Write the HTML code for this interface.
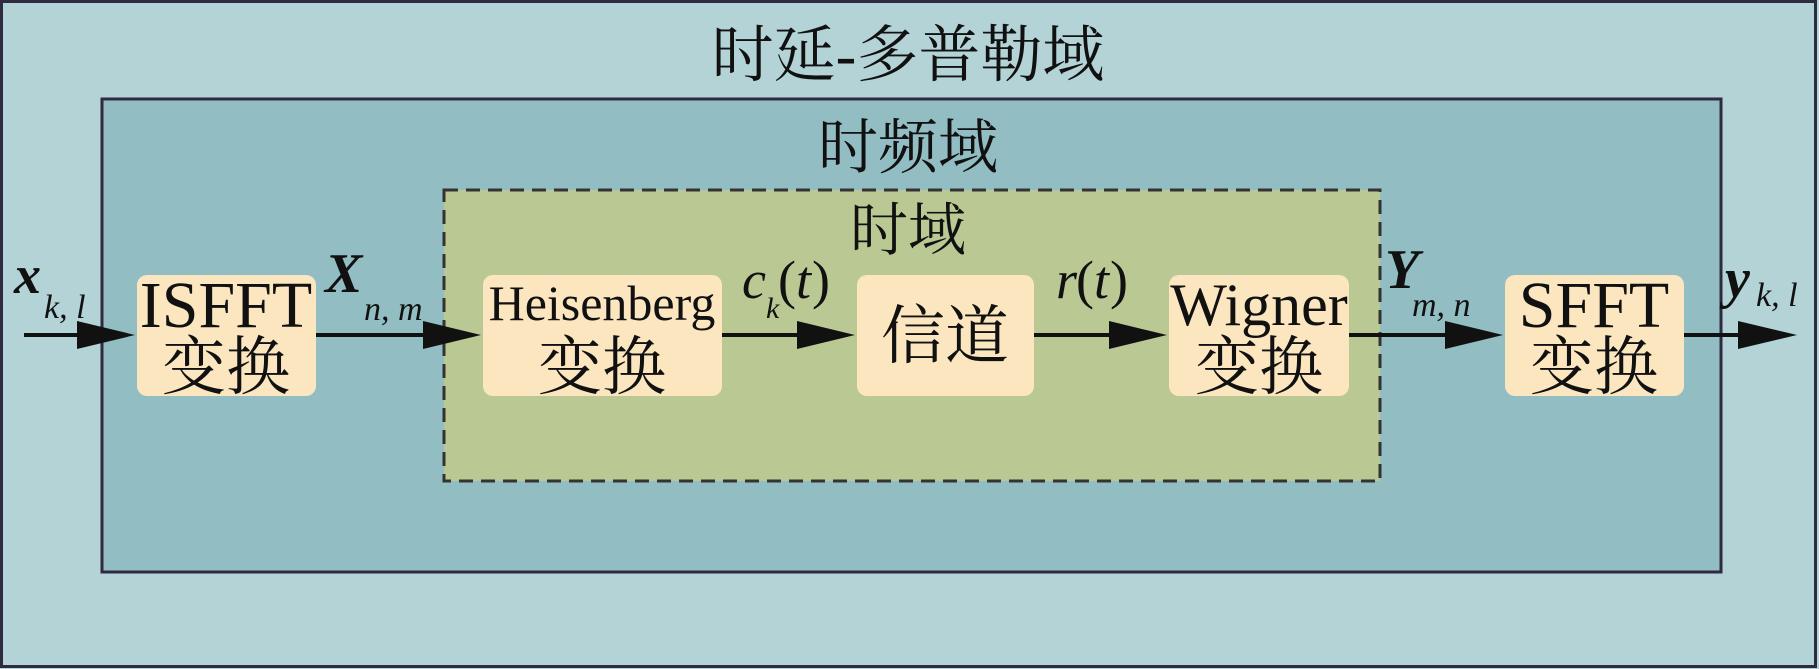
<!DOCTYPE html>
<html><head><meta charset="utf-8"><style>
html,body{margin:0;padding:0;background:#b3d3d6;}
svg{display:block}
.t{font-family:"Liberation Serif","Noto Serif CJK SC",serif;fill:#111;}
</style></head><body>
<svg width="1819" height="669" viewBox="0 0 1819 669" xmlns="http://www.w3.org/2000/svg">
<rect x="1.5" y="1.5" width="1814" height="665" fill="#b3d3d6" stroke="#2e2a40" stroke-width="3"/>
<rect x="102" y="99" width="1619" height="473" fill="#92bdc3" stroke="#2e2a40" stroke-width="3"/>
<rect x="444" y="190" width="936" height="291" fill="#bac994" stroke="#333" stroke-width="3" stroke-dasharray="14,8"/>
<text class="t" x="908" y="76" font-size="62" text-anchor="middle">时延-多普勒域</text>
<text class="t" x="908" y="168" font-size="60" text-anchor="middle">时频域</text>
<text class="t" x="908" y="250" font-size="58" text-anchor="middle">时域</text>
<g fill="#fbe6c0">
<rect x="137" y="275" width="179" height="121" rx="10"/>
<rect x="483" y="275" width="239" height="121" rx="10"/>
<rect x="857" y="275" width="177" height="121" rx="10"/>
<rect x="1169" y="275" width="180" height="121" rx="10"/>
<rect x="1505" y="275" width="179" height="121" rx="10"/>
</g>
<g class="t" text-anchor="middle">
<text x="226" y="327" font-size="66">ISFFT</text><text x="226" y="389" font-size="64">变换</text>
<text x="602" y="320" font-size="50">Heisenberg</text><text x="602" y="389" font-size="64">变换</text>
<text x="945" y="358" font-size="64">信道</text>
<text x="1259" y="325" font-size="60">Wigner</text><text x="1259" y="389" font-size="64">变换</text>
<text x="1594" y="327" font-size="66">SFFT</text><text x="1594" y="389" font-size="64">变换</text>
</g>
<g stroke="#111" stroke-width="4">
<line x1="24" y1="335" x2="90" y2="335"/>
<line x1="316" y1="335" x2="430" y2="335"/>
<line x1="722" y1="335" x2="810" y2="335"/>
<line x1="1034" y1="335" x2="1120" y2="335"/>
<line x1="1349" y1="335" x2="1455" y2="335"/>
<line x1="1684" y1="335" x2="1750" y2="335"/>
</g>
<g fill="#111">
<polygon points="77,321 135,335 77,349"/>
<polygon points="423,321 481,335 423,349"/>
<polygon points="797,321 855,335 797,349"/>
<polygon points="1109,321 1167,335 1109,349"/>
<polygon points="1445,321 1503,335 1445,349"/>
<polygon points="1738,321 1797,335 1738,349"/>
</g>
<g class="t" font-style="italic">
<text x="14" y="293" font-size="54" font-weight="bold">x</text><text x="44" y="318" font-size="34">k, l</text>
<text x="325" y="292" font-size="56" font-weight="bold">X</text><text x="364" y="320" font-size="34">n, m</text>
<text x="742" y="298" font-size="54">c</text><text x="766" y="318" font-size="30">k</text><text x="778" y="298" font-size="54" font-style="normal">(</text><text x="796" y="298" font-size="54">t</text><text x="812" y="298" font-size="54" font-style="normal">)</text>
<text x="1056" y="298" font-size="54">r</text><text x="1076" y="298" font-size="54" font-style="normal">(</text><text x="1094" y="298" font-size="54">t</text><text x="1110" y="298" font-size="54" font-style="normal">)</text>
<text x="1385" y="288" font-size="56" font-weight="bold">Y</text><text x="1412" y="316" font-size="34">m, n</text>
<text x="1725" y="297" font-size="56" font-weight="bold">y</text><text x="1756" y="306" font-size="34">k, l</text>
</g>
</svg>
</body></html>
